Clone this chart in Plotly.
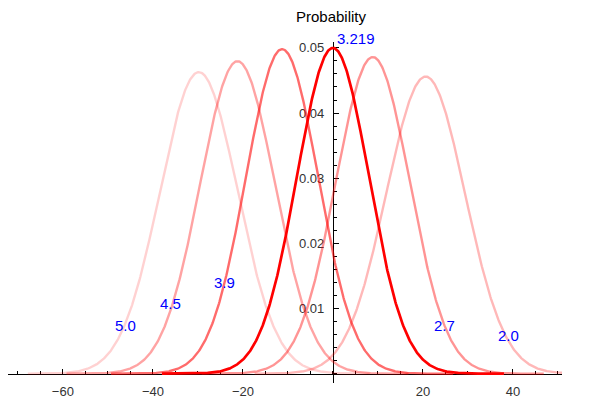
import numpy as np
import plotly.graph_objects as go

# Data
labels = ["5.0", "4.5", "3.9", "3.219", "2.7", "2.0"]
means = [-29.8, -21.2, -11.3, 0.0, 8.85, 20.6]
sigmas = [8.62, 8.32, 8.01, 7.98, 8.21, 8.75]
alphas = [0.18, 0.36, 0.58, 1.0, 0.42, 0.28]
label_x = [-46.2, -36.0, -24.1, 5.1, 24.9, 39.1]
label_y = [0.00744, 0.0107, 0.0140, 0.0514, 0.00734, 0.00584]
x_tick_vals = [-60, -40, -20, 20, 40]
x_tick_text = ["\u221260", "\u221240", "\u221220", "20", "40"]
y_tick_vals = [0.01, 0.02, 0.03, 0.04, 0.05]
y_tick_text = ["0.01", "0.02", "0.03", "0.04", "0.05"]

xmin, xmax = -72.2, 50.9
ymin, ymax = -0.00143, 0.0509

fig = go.Figure()
for lab, m, s, a in zip(labels, means, sigmas, alphas):
    xs = np.linspace(m - 38, m + 38, 600)
    ys = np.exp(-0.5 * ((xs - m) / s) ** 2) / (s * np.sqrt(2 * np.pi))
    fig.add_trace(go.Scatter(
        x=xs, y=ys, mode="lines", name=lab,
        line=dict(color=f"rgba(255,0,0,{a})", width=2.7 if a == 1.0 else 2.4),
        hoverinfo="skip", cliponaxis=True,
    ))

annotations = []
for lab, lx, ly in zip(labels, label_x, label_y):
    py = (ly - ymin) / (ymax - ymin)
    annotations.append(dict(x=lx, y=py, xref="x", yref="paper", text=lab, showarrow=False,
                            font=dict(color="#0000ff", size=15, family="Arial"),
                            xanchor="center", yanchor="middle"))
annotations.append(dict(x=-0.4, y=1.0747, xref="x", yref="paper", text="Probability",
                        showarrow=False, font=dict(color="black", size=15, family="Arial"),
                        xanchor="center", yanchor="middle"))
annotations.append(dict(x=1.0018, y=-0.00218, xref="paper", yref="y", text="\u0394RSSI",
                        showarrow=False, font=dict(color="black", size=15, family="Arial"),
                        xanchor="left", yanchor="middle"))

xpos = (0 - ymin) / (ymax - ymin)
ypos = (0 - xmin) / (xmax - xmin)

fig.update_layout(
    width=611, height=407,
    margin=dict(l=8, r=49, t=42, b=17),
    paper_bgcolor="white", plot_bgcolor="white",
    showlegend=False,
    annotations=annotations,
    xaxis=dict(range=[xmin, xmax], anchor="free", position=xpos, showgrid=False,
               zeroline=False, showline=True, linecolor="black", linewidth=1,
               tickmode="array", tickvals=x_tick_vals, ticktext=x_tick_text,
               ticks="inside", ticklen=5, tickcolor="black", tickwidth=1,
               ticklabelstandoff=6,
               minor=dict(tickmode="linear", tick0=0, dtick=5, ticks="inside",
                          ticklen=3, tickcolor="black", tickwidth=1, showgrid=False),
               tickfont=dict(family="Arial", size=13, color="#333"),
               layer="below traces", fixedrange=True),
    yaxis=dict(range=[ymin, ymax], anchor="free", position=ypos, showgrid=False,
               zeroline=False, showline=True, linecolor="black", linewidth=1,
               tickmode="array", tickvals=y_tick_vals, ticktext=y_tick_text,
               ticks="inside", ticklen=5, tickcolor="black", tickwidth=1,
               ticklabelstandoff=6,
               minor=dict(tickmode="linear", tick0=0, dtick=0.002, ticks="inside",
                          ticklen=3, tickcolor="black", tickwidth=1, showgrid=False),
               tickfont=dict(family="Arial", size=13, color="#333"),
               layer="below traces", fixedrange=True),
)

fig.write_html("out.html")
